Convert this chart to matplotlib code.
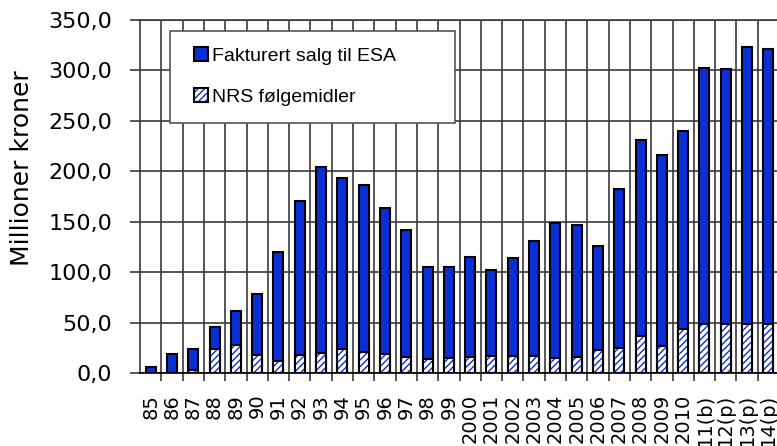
import matplotlib
matplotlib.use("Agg")
import matplotlib.pyplot as plt
from matplotlib.patches import Patch, Rectangle
from matplotlib.legend_handler import HandlerPatch
from matplotlib.ticker import FuncFormatter, MultipleLocator
import numpy as np

# Data (millioner kroner)
years = ["85", "86", "87", "88", "89", "90", "91", "92", "93", "94", "95",
         "96", "97", "98", "99", "2000", "2001", "2002", "2003", "2004",
         "2005", "2006", "2007", "2008", "2009", "2010", "11(b)", "12(p)",
         "13(p)", "14(p)"]
fakturert = [6, 19, 24, 46, 61, 78, 120, 171, 204, 193, 186, 164, 142, 105,
             105, 115, 102, 114, 131, 149, 147, 126, 182, 231, 216, 240, 302,
             301, 323, 321]
nrs = [0, 0, 3, 24, 28, 18, 12, 18, 20, 24, 21, 19, 16, 14, 15, 16, 17, 17,
       17, 15, 16, 23, 25, 37, 27, 44, 49, 49, 49, 49]

blue = "#0a2fd6"
grid_col = "#3a3a3a"
plt.rcParams["hatch.linewidth"] = 1.0

fig = plt.figure(figsize=(7.77, 4.46), dpi=100)
ax = fig.add_axes([140 / 777, 73 / 446, 639 / 777, 353 / 446])

x = np.arange(len(years))
w = 0.47

# Fakturert salg (total), then NRS-delen hatched at the bottom
ax.bar(x, fakturert, w, color=blue, edgecolor="black", linewidth=1.5, zorder=3)
ax.bar(x, nrs, w, color="white", edgecolor=blue, hatch="/////", linewidth=0, zorder=4)
ax.bar(x, nrs, w, fill=False, edgecolor="black", linewidth=1.5, zorder=5)

ax.set_xlim(-0.5, len(years) - 0.5)
ax.set_ylim(0, 350)

# grid: vertical lines between categories, horizontal every 50
ax.yaxis.set_major_locator(MultipleLocator(50))
ax.set_xticks(x)
ax.set_xticks(x[:-1] + 0.5, minor=True)
ax.set_xticklabels(years, rotation=90, fontsize=14, family="DejaVu Sans")
ax.grid(axis="y", which="major", color=grid_col, linewidth=1.2, zorder=0)
ax.grid(axis="x", which="minor", color=grid_col, linewidth=1.2, zorder=0)
ax.tick_params(axis="x", which="major", length=0, pad=15)
ax.tick_params(axis="x", which="minor", length=6, width=1.2, color=grid_col)
ax.tick_params(axis="y", length=7, width=1.2, color=grid_col, pad=13, labelsize=16)
ax.yaxis.set_major_formatter(FuncFormatter(lambda v, p: f"{v:.1f}".replace(".", ",")))

for s in ax.spines.values():
    s.set_color(grid_col)
    s.set_linewidth(1.2)
ax.spines["bottom"].set_color("black")

ax.set_ylabel("Millioner kroner", fontsize=18, family="DejaVu Sans")
ax.yaxis.set_label_coords(-0.166, 0.58)


def square_handle(legend, orig_handle, xdescent, ydescent, width, height, fontsize):
    # small square at the right end of the handle box
    return Rectangle((-xdescent + width - height, -ydescent), height, height)


h1 = Patch(facecolor=blue, edgecolor="black", linewidth=1.5)
h2a = Patch(facecolor="white", edgecolor=blue, hatch="/////", linewidth=0)
h2b = Patch(fill=False, edgecolor="black", linewidth=1.5)
leg = ax.legend([h1, (h2a, h2b)], ["Fakturert salg til ESA", "NRS følgemidler"],
                loc="upper left", bbox_to_anchor=(0.047, 0.697, 0.446, 0.272),
                mode="expand", borderaxespad=0, fancybox=False,
                prop={"family": "Liberation Sans", "size": 14},
                handler_map={Patch: HandlerPatch(patch_func=square_handle)},
                handlelength=1.1, handleheight=0.7, handletextpad=0.2,
                labelspacing=1.2, borderpad=0.85, framealpha=1)
leg.get_frame().set_edgecolor("#555555")
leg.get_frame().set_linewidth(1.2)
leg.set_zorder(10)

fig.savefig("out.png", dpi=100)
